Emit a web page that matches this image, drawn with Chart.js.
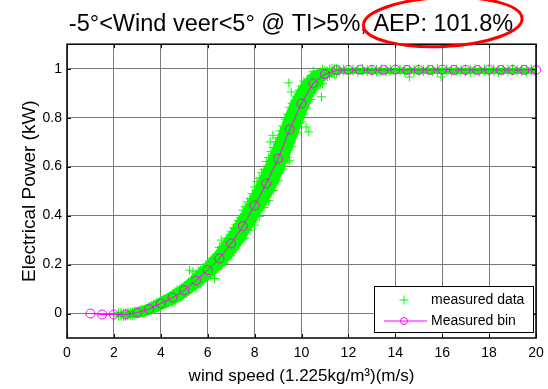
<!DOCTYPE html>
<html>
<head>
<meta charset="utf-8">
<script src="https://cdn.jsdelivr.net/npm/chart.js@4.4.1/dist/chart.umd.min.js"></script>
<style>
  html, body { margin: 0; padding: 0; background: #fff; }
  #powerCurve { display: block; }
</style>
</head>
<body>
<canvas id="powerCurve" width="548" height="389"></canvas>
<script>
const chartTitle = "-5°<Wind veer<5° @ TI>5%, AEP: 101.8%";
const markedPart = "AEP: 101.8%";

// binned power curve (0.5 m/s bins)
const binSpeed = [1, 1.5, 2, 2.5, 3, 3.5, 4, 4.5, 5, 5.5, 6, 6.5, 7, 7.5, 8, 8.5, 9, 9.5, 10, 10.5,
  11, 11.5, 12, 12.5, 13, 13.5, 14, 14.5, 15, 15.5, 16, 16.5, 17, 17.5, 18, 18.5, 19, 19.5, 20];
const binPower = [0, -0.004, -0.004, -0.004, 0.004, 0.018, 0.041, 0.065, 0.095, 0.135, 0.177, 0.225,
  0.286, 0.357, 0.441, 0.531, 0.632, 0.752, 0.858, 0.94, 0.978, 0.994, 0.995, 0.996, 0.995, 0.995,
  0.996, 0.995, 0.995, 0.995, 0.996, 0.995, 0.995, 0.995, 0.996, 0.995, 0.995, 0.995, 0.995];

// the dense core of the measured cloud, lower and upper edge
const cloudSpeed = [2.1, 2.5, 3, 3.5, 4, 4.5, 5, 5.5, 6, 6.5, 7, 7.5, 8, 8.5, 9, 9.5, 10, 10.25,
  10.5, 10.75, 11, 11.5, 12, 20];
const cloudLow = [-0.010, -0.016, -0.015, -0.004, 0.015, 0.036, 0.063, 0.099, 0.137, 0.176, 0.228,
  0.292, 0.370, 0.448, 0.536, 0.651, 0.775, 0.832, 0.890, 0.922, 0.953, 0.978, 0.980, 0.980];
const cloudHigh = [0.000, 0.006, 0.023, 0.040, 0.066, 0.093, 0.126, 0.170, 0.216, 0.274, 0.344,
  0.421, 0.512, 0.614, 0.728, 0.853, 0.941, 0.967, 0.989, 0.996, 0.999, 1.002, 1.002, 1.002];

// measured data: wind speed, then the powers logged around that speed
const measuredSamples = [
  [2.2, -0.012, -0.005, 0.003], [2.3, -0.010, -0.002, 0.004], [2.4, -0.012, -0.001, 0.001],
  [2.5, -0.012, -0.005, 0.003], [2.6, -0.008, 0.000, 0.006], [2.7, -0.009, 0.002, 0.004],
  [2.8, -0.007, 0.000, 0.008], [2.9, -0.004, 0.004, 0.010], [3.0, -0.003, 0.007, 0.009],
  [3.1, -0.001, 0.006, 0.014], [3.2, 0.004, 0.012, 0.018], [3.3, 0.005, 0.015, 0.017],
  [3.4, 0.007, 0.014, 0.022], [3.5, 0.010, 0.020, 0.030], [3.6, 0.012, 0.028, 0.033],
  [3.7, 0.015, 0.026, 0.038], [3.8, 0.024, 0.034, 0.044], [3.9, 0.025, 0.041, 0.046],
  [4.0, 0.029, 0.040, 0.052], [4.1, 0.038, 0.048, 0.058], [4.2, 0.040, 0.056, 0.061],
  [4.3, 0.043, 0.054, 0.066], [4.4, 0.052, 0.062, 0.072], [4.5, 0.047, 0.073, 0.081],
  [4.6, 0.051, 0.069, 0.089], [4.7, 0.063, 0.081, 0.097], [4.8, 0.065, 0.091, 0.099],
  [4.9, 0.069, 0.087, 0.107], [5.0, 0.081, 0.099, 0.115], [5.1, 0.085, 0.111, 0.119],
  [5.2, 0.091, 0.109, 0.129], [5.3, 0.105, 0.123, 0.139], [5.4, 0.109, 0.135, 0.143],
  [5.5, 0.105, 0.132, 0.162], [5.6, 0.122, 0.149, 0.173], [5.7, 0.125, 0.164, 0.176],
  [5.8, 0.130, 0.157, 0.187], [5.9, 0.148, 0.175, 0.199], [6.0, 0.150, 0.189, 0.201],
  [6.1, 0.157, 0.184, 0.214], [6.2, 0.175, 0.202, 0.226], [6.3, 0.179, 0.218, 0.230],
  [6.4, 0.185, 0.212, 0.242], [6.5, 0.194, 0.234, 0.270], [6.6, 0.197, 0.255, 0.273],
  [6.7, 0.204, 0.245, 0.289], [6.8, 0.231, 0.271, 0.307], [6.9, 0.234, 0.292, 0.310],
  [7.0, 0.236, 0.269, 0.301, 0.334], [7.1, 0.260, 0.295, 0.328, 0.350],
  [7.2, 0.264, 0.297, 0.329, 0.362], [7.3, 0.289, 0.324, 0.357, 0.379],
  [7.4, 0.293, 0.326, 0.358, 0.391], [7.5, 0.305, 0.351, 0.393, 0.422],
  [7.6, 0.309, 0.351, 0.394, 0.436], [7.7, 0.339, 0.385, 0.427, 0.456],
  [7.8, 0.342, 0.384, 0.427, 0.469], [7.9, 0.372, 0.418, 0.460, 0.489],
  [8.0, 0.361, 0.413, 0.465, 0.517], [8.1, 0.395, 0.451, 0.503, 0.539],
  [8.2, 0.397, 0.449, 0.501, 0.553], [8.3, 0.431, 0.487, 0.539, 0.575],
  [8.4, 0.433, 0.485, 0.537, 0.589], [8.5, 0.459, 0.522, 0.581, 0.621],
  [8.6, 0.461, 0.520, 0.578, 0.637], [8.7, 0.499, 0.562, 0.621, 0.661],
  [8.8, 0.502, 0.561, 0.619, 0.678], [8.9, 0.540, 0.603, 0.662, 0.702],
  [9.0, 0.542, 0.601, 0.659, 0.718], [9.1, 0.584, 0.647, 0.706, 0.746],
  [9.2, 0.590, 0.649, 0.707, 0.766], [9.3, 0.632, 0.695, 0.754, 0.794],
  [9.4, 0.638, 0.697, 0.755, 0.814], [9.5, 0.680, 0.743, 0.802, 0.842],
  [9.6, 0.683, 0.742, 0.800, 0.859], [9.7, 0.734, 0.787, 0.835, 0.869],
  [9.8, 0.741, 0.790, 0.839, 0.887], [9.9, 0.777, 0.830, 0.878, 0.912],
  [10.0, 0.783, 0.832, 0.881, 0.929], [10.1, 0.814, 0.867, 0.915, 0.949],
  [10.2, 0.841, 0.874, 0.906, 0.939], [10.3, 0.867, 0.902, 0.935, 0.957],
  [10.4, 0.874, 0.907, 0.939, 0.972], [10.5, 0.900, 0.935, 0.968, 0.990],
  [10.6, 0.918, 0.945, 0.975], [10.7, 0.934, 0.961, 0.985], [10.8, 0.936, 0.975, 0.987],
  [10.9, 0.940, 0.967, 0.997], [11.0, 0.968, 0.981, 0.993], [11.1, 0.968, 0.987, 0.990],
  [11.2, 0.969, 0.983, 0.998], [11.3, 0.978, 0.991, 1.000], [11.4, 0.978, 0.997, 0.999],
  [11.5, 0.980, 0.993, 1.000], [11.6, 0.986, 0.997], [11.8, 0.990, 0.999],
  [12.0, 0.987, 0.996], [12.2, 0.989, 0.998], [12.4, 0.986, 0.997], [12.6, 0.991, 0.999],
  [12.8, 0.988, 0.996], [13.0, 0.990, 0.998], [13.2, 0.987, 0.997], [13.4, 0.989, 0.999],
  [13.6, 0.986, 0.996], [13.8, 0.990, 0.998], [14.0, 0.988, 0.997], [14.2, 0.991, 0.999],
  [14.4, 0.987, 0.996], [14.6, 0.989, 0.998], [14.8, 0.986, 0.997], [15.0, 0.990, 0.999],
  [15.2, 0.988, 0.996], [15.4, 0.991, 0.998], [15.6, 0.987, 0.997], [15.8, 0.989, 0.999],
  [16.0, 0.986, 0.996], [16.2, 0.990, 0.998], [16.4, 0.988, 0.997], [16.6, 0.991, 0.999],
  [16.8, 0.987, 0.996], [17.0, 0.989, 0.998], [17.2, 0.986, 0.997], [17.4, 0.990, 0.999],
  [17.6, 0.988, 0.996], [17.8, 0.991, 0.998], [18.0, 0.987, 0.997], [18.2, 0.989, 0.999],
  [18.4, 0.986, 0.996], [18.6, 0.990, 0.998], [18.8, 0.988, 0.997], [19.0, 0.991, 0.999],
  [19.2, 0.987, 0.996], [19.4, 0.989, 0.998], [19.6, 0.986, 0.997], [19.8, 0.990, 0.999],
  [20.0, 0.988, 0.996],
];

// stray samples away from the main cloud
const measuredOutliers = [
  [5.23, 0.177], [5.37, 0.17], [6.29, 0.143], [6.58, 0.3], [8.67, 0.701], [8.78, 0.728],
  [9.42, 0.619], [9.49, 0.626], [9.46, 0.942], [9.56, 0.905], [10.2, 0.762], [10.31, 0.742],
  [10.85, 0.885], [14.6, 0.966], [15.95, 0.966],
];

const xTicks = [0, 2, 4, 6, 8, 10, 12, 14, 16, 18, 20];
const yTicks = [0, 0.2, 0.4, 0.6, 0.8, 1];

const measuredPoints = [];
measuredSamples.forEach(([speed, ...powers]) => {
  powers.forEach((p) => measuredPoints.push({ x: speed, y: p }));
});
measuredOutliers.forEach(([x, y]) => measuredPoints.push({ x, y }));

const binPoints = binSpeed.map((s, i) => ({ x: s, y: binPower[i] }));
const cloudLowPoints = cloudSpeed.map((s, i) => ({ x: s, y: cloudLow[i] }));
const cloudHighPoints = cloudSpeed.map((s, i) => ({ x: s, y: cloudHigh[i] }));

Chart.defaults.font.family = "'Liberation Sans', Arial, sans-serif";
Chart.defaults.color = "#000";

const green = "#00ff00";
const magenta = "#ff00ff";
const gridColor = "#7a7a7a";
const titleSize = 23.5;

// title sits a little right of the canvas centre in the original
const shiftTitle = {
  id: "shiftTitle",
  afterLayout(chart) {
    const t = chart.titleBlock;
    if (!t) return;
    const dx = 17;
    t.left += dx;
    t.right += dx;
  },
};

// matlab style box with inward ticks
const axesBox = {
  id: "axesBox",
  afterDatasetsDraw(chart) {
    const { ctx, chartArea: a, scales } = chart;
    const len = 4;
    ctx.save();
    ctx.strokeStyle = "#000";
    ctx.lineWidth = 1;
    ctx.beginPath();
    xTicks.forEach((v) => {
      const x = Math.round(scales.x.getPixelForValue(v)) + 0.5;
      ctx.moveTo(x, a.bottom);
      ctx.lineTo(x, a.bottom - len);
      ctx.moveTo(x, a.top);
      ctx.lineTo(x, a.top + len);
    });
    yTicks.forEach((v) => {
      const y = Math.round(scales.y.getPixelForValue(v)) + 0.5;
      ctx.moveTo(a.left, y);
      ctx.lineTo(a.left + len, y);
      ctx.moveTo(a.right, y);
      ctx.lineTo(a.right - len, y);
    });
    ctx.stroke();
    ctx.lineWidth = 1.5;
    ctx.strokeRect(a.left, a.top, a.right - a.left, a.bottom - a.top);
    ctx.restore();
  },
};

// legend box in the lower right corner of the axes
const insideLegend = {
  id: "insideLegend",
  afterDraw(chart) {
    const { ctx, chartArea: a } = chart;
    const entries = chart.data.datasets.filter((ds) => ds.inLegend);
    const w = 159, h = 46;
    const left = a.right - 3 - w, top = a.bottom - 6 - h;
    ctx.save();
    ctx.fillStyle = "#fff";
    ctx.fillRect(left, top, w, h);
    ctx.strokeStyle = "#000";
    ctx.lineWidth = 1;
    ctx.strokeRect(Math.round(left) + 0.5, Math.round(top) + 0.5, w, h);

    ctx.font = "14px 'Liberation Sans', Arial, sans-serif";
    ctx.textBaseline = "middle";
    const sampleX = left + 30;
    entries.forEach((ds, i) => {
      const y = top + 14 + i * 21;
      ctx.strokeStyle = ds.pointBorderColor;
      ctx.lineWidth = 1;
      if (ds.showLine) {
        ctx.beginPath();
        ctx.moveTo(left + 10, y);
        ctx.lineTo(left + 53, y);
        ctx.stroke();
      }
      ctx.fillStyle = "rgba(0,0,0,0)";
      Chart.helpers.drawPoint(ctx, {
        pointStyle: ds.pointStyle,
        radius: ds.pointStyle === "circle" ? 3.5 : 4.5,
        borderWidth: 1,
        rotation: 0,
      }, sampleX, y);
      ctx.fillStyle = "#000";
      ctx.fillText(ds.label, left + 57, y);
    });
    ctx.restore();
  },
};

// red highlight drawn round the AEP figure of the title
const aepMark = {
  id: "aepMark",
  afterDraw(chart) {
    const { ctx } = chart;
    const t = chart.titleBlock;
    ctx.save();
    ctx.font = titleSize + "px 'Liberation Sans', Arial, sans-serif";
    const full = ctx.measureText(chartTitle).width;
    const part = ctx.measureText(markedPart).width;
    const textRight = (t.left + t.right) / 2 + full / 2;
    const x0 = textRight - part - 10;
    const x1 = textRight + 9;
    ctx.strokeStyle = "#ff0000";
    ctx.lineWidth = 3;
    ctx.beginPath();
    ctx.ellipse((x0 + x1) / 2, 22, (x1 - x0) / 2, 24.5, -0.045, 0, Math.PI * 2);
    ctx.stroke();
    ctx.restore();
  },
};

new Chart(document.getElementById("powerCurve"), {
  type: "scatter",
  data: {
    datasets: [
      {
        label: "measured cloud low",
        data: cloudLowPoints,
        showLine: true,
        pointRadius: 0,
        borderColor: green,
        borderWidth: 1,
        cubicInterpolationMode: "monotone",
        fill: false,
        order: 3,
      },
      {
        label: "measured cloud high",
        data: cloudHighPoints,
        showLine: true,
        pointRadius: 0,
        borderColor: green,
        borderWidth: 1,
        backgroundColor: green,
        cubicInterpolationMode: "monotone",
        fill: "-1",
        order: 3,
      },
      {
        label: "measured data",
        data: measuredPoints,
        pointStyle: "cross",
        pointRadius: 4.5,
        pointBorderWidth: 1,
        pointBorderColor: green,
        borderColor: green,
        showLine: false,
        inLegend: true,
        order: 2,
      },
      {
        label: "Measured bin",
        data: binPoints,
        showLine: true,
        borderColor: magenta,
        borderWidth: 1,
        pointStyle: "circle",
        pointRadius: 4.5,
        pointBorderWidth: 1,
        pointBorderColor: magenta,
        pointBackgroundColor: "rgba(0,0,0,0)",
        backgroundColor: "rgba(0,0,0,0)",
        clip: false,
        inLegend: true,
        order: 1,
      },
    ],
  },
  options: {
    responsive: false,
    animation: false,
    events: [],
    devicePixelRatio: 1,
    layout: { padding: 0 },
    scales: {
      x: {
        type: "linear",
        min: 0,
        max: 20,
        afterBuildTicks: (s) => { s.ticks = xTicks.map((v) => ({ value: v })); },
        afterFit: (s) => { s.height = 51; s.paddingLeft = 0; s.paddingRight = 12; },
        border: { display: false },
        grid: { color: gridColor, lineWidth: 1, drawTicks: false },
        ticks: { font: { size: 14 }, padding: 7, maxRotation: 0, autoSkip: false },
        title: {
          display: true,
          text: "wind speed (1.225kg/m³)(m/s)",
          font: { size: 17 },
          padding: { top: 0, bottom: 2 },
        },
      },
      y: {
        type: "linear",
        min: -0.1,
        max: 1.1,
        afterBuildTicks: (s) => { s.ticks = yTicks.map((v) => ({ value: v })); },
        afterFit: (s) => { s.width = 67; },
        border: { display: false },
        grid: { color: gridColor, lineWidth: 1, drawTicks: false },
        ticks: { font: { size: 14 }, padding: 5, callback: (v) => String(v) },
        title: {
          display: true,
          text: "Electrical Power (kW)",
          font: { size: 19 },
          padding: { top: 18, bottom: 0 },
        },
      },
    },
    plugins: {
      legend: { display: false },
      tooltip: { enabled: false },
      title: {
        display: true,
        text: chartTitle,
        font: { size: titleSize, weight: "normal" },
        padding: { top: 10, bottom: 6 },
      },
    },
  },
  plugins: [shiftTitle, axesBox, insideLegend, aepMark],
});
</script>
</body>
</html>
